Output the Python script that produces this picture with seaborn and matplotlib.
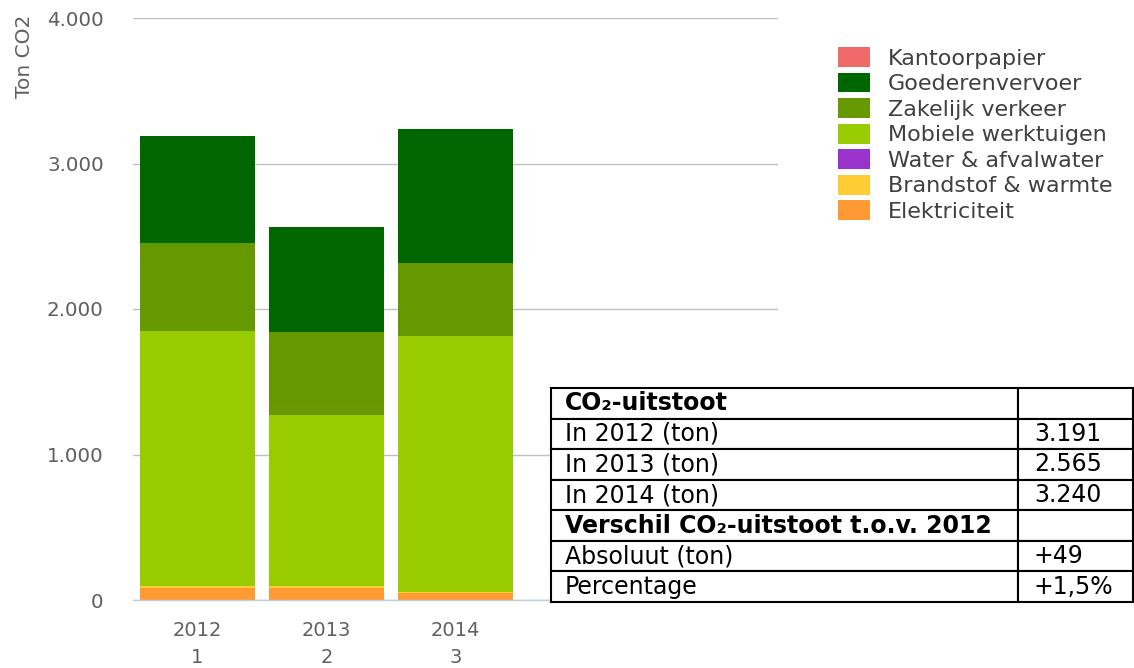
import pandas as pd
import matplotlib.pyplot as plt
import seaborn as sns
from matplotlib.ticker import FuncFormatter

# Data (ton CO2)
years = ["2012\n1", "2013\n2", "2014\n3"]
categories = ["Elektriciteit", "Brandstof & warmte", "Water & afvalwater",
              "Mobiele werktuigen", "Zakelijk verkeer", "Goederenvervoer", "Kantoorpapier"]
elektriciteit = [85, 85, 45]
brandstof = [8, 8, 7]
water = [0, 0, 0]
mobiele = [1756, 1178, 1762]
zakelijk = [605, 571, 502]
goederen = [737, 723, 924]
kantoorpapier = [0, 0, 0]
colors = ["#ff9933", "#ffcc33", "#9933cc", "#99cc00", "#669900", "#006600", "#f06a6a"]

table_labels = ["CO\u2082-uitstoot", "In 2012 (ton)", "In 2013 (ton)", "In 2014 (ton)",
                "Verschil CO\u2082-uitstoot t.o.v. 2012", "Absoluut (ton)", "Percentage"]
table_values = ["", "3.191", "2.565", "3.240", "", "+49", "+1,5%"]

df = pd.DataFrame({"jaar": years, "Elektriciteit": elektriciteit,
                   "Brandstof & warmte": brandstof, "Water & afvalwater": water,
                   "Mobiele werktuigen": mobiele, "Zakelijk verkeer": zakelijk,
                   "Goederenvervoer": goederen, "Kantoorpapier": kantoorpapier})
cum = df[categories].cumsum(axis=1)
cum["jaar"] = df["jaar"]

sns.set_style("white")
plt.rcParams['font.family'] = ['DejaVu Sans']

fig = plt.figure(figsize=(11.34, 6.68), dpi=100)
ax = fig.add_axes([133 / 1134, 68 / 668, 645 / 1134, 582 / 668])

# stacked bars: draw cumulative totals from the top layer down
for cat, col in reversed(list(zip(categories, colors))):
    sns.barplot(data=cum, x="jaar", y=cat, color=col, saturation=1,
                width=0.89, linewidth=0, ax=ax, label=cat)

ax.set_xlim(-0.5, 4.5)
ax.set_ylim(0, 4000)
ax.set_yticks([0, 1000, 2000, 3000, 4000])
ax.yaxis.set_major_formatter(FuncFormatter(lambda v, p: f"{int(v):,}".replace(",", ".")))
ax.set_xlabel("")
ax.set_ylabel("")
ax.set_axisbelow(True)
ax.yaxis.grid(True, color="#c0c0c0", lw=1)
ax.xaxis.grid(False)
for s in ["left", "top", "right"]:
    ax.spines[s].set_visible(False)
ax.spines["bottom"].set_color("#c0d0e0")
ax.spines["bottom"].set_linewidth(1)

ax.set_xticks([-0.5, 0.5, 1.5, 2.5, 3.5, 4.5], [""] * 6)
ax.set_xticks([0, 1, 2], years, minor=True)
ax.tick_params(axis="x", which="major", length=14, color="#c0d0e0", width=1)
ax.tick_params(axis="x", which="minor", length=0, pad=15, labelsize=14, labelcolor="#606060")
ax.tick_params(axis="y", length=0, pad=21, labelsize=14.3, labelcolor="#606060")
for t in ax.get_xticklabels(minor=True):
    t.set_linespacing(1.55)

fig.text(25 / 1134, 1 - 56 / 668, "Ton CO2", rotation=90, ha="center", va="center",
         fontsize=14.5, color="#606060")

# legend (top layer first)
handles, labels = ax.get_legend_handles_labels()
if ax.get_legend():
    ax.get_legend().remove()
fig.legend(handles, labels, loc="upper left", bbox_to_anchor=(838 / 1134, 1 - 47 / 668),
           frameon=False, fontsize=16, handlelength=1.44, handleheight=1.0,
           labelspacing=0.18, handletextpad=0.8, borderpad=0, borderaxespad=0,
           labelcolor="#404040")

# summary table
tax = fig.add_axes([551 / 1134, 66 / 668, 582 / 1134, 214 / 668])
tax.axis("off")
tbl = tax.table(cellText=[[l, v] for l, v in zip(table_labels, table_values)],
                colWidths=[0.802, 0.198], cellLoc="left", bbox=[0, 0, 1, 1])
tbl.auto_set_font_size(False)
tbl.set_fontsize(17)
for (r, c), cell in tbl.get_celld().items():
    cell.set_edgecolor("black")
    cell.set_linewidth(1.5)
    cell.PAD = 0.03 if c == 0 else 0.14
    cell.get_text().set_color("black")
    if r in (0, 4):
        cell.get_text().set_fontweight("bold")

plt.savefig("out.png", dpi=100)
